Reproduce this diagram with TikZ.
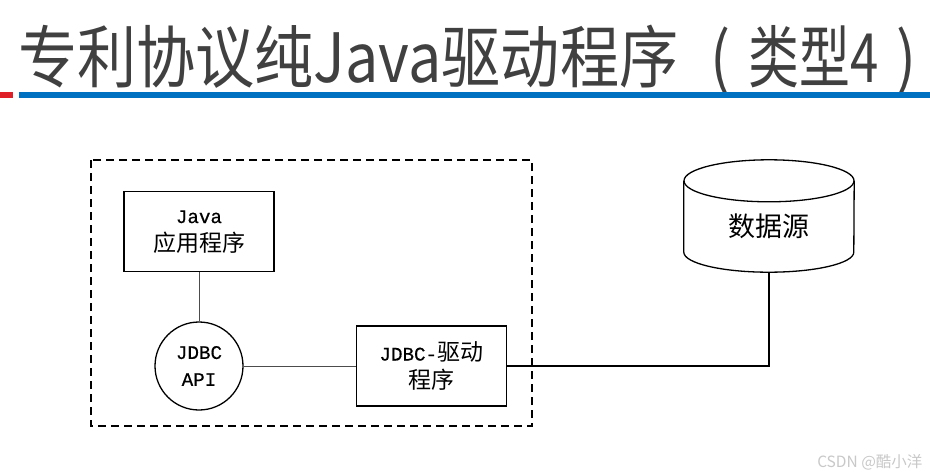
\documentclass[tikz,border=0pt]{standalone}
\usepackage{fontspec}
\setmainfont{Liberation Serif}
\newfontfamily\cjk{Noto Sans CJK SC}
\newfontfamily\latinmono[FakeBold=0.5]{Liberation Mono}
\usetikzlibrary{positioning, calc}
\definecolor{titlegray}{RGB}{64,64,64}
\definecolor{barblue}{RGB}{0,112,192}
\definecolor{barred}{RGB}{224,32,40}
\definecolor{markgray}{RGB}{200,200,200}
\newcommand{\zh}[1]{{\cjk\fontsize{23}{28}\selectfont #1}}
\tikzset{
  titletext/.style={inner sep=0pt, text=titlegray, xscale=0.87, transform shape,
                  font=\cjk\fontsize{68}{72}\selectfont},
  compbox/.style={rectangle, draw=black, line width=1.3pt, inner sep=0pt,
                  minimum width=150pt, minimum height=80pt, align=center,
                  font=\latinmono\fontsize{19.2}{28}\selectfont},
  apicircle/.style={circle, draw=black, line width=1.3pt, inner sep=0pt,
                  minimum size=88pt, align=center, font=\latinmono\fontsize{19.2}{27}\selectfont},
  dbnode/.style={rectangle, inner sep=0pt, minimum width=170pt, minimum height=91pt,
                  font=\cjk\fontsize{27}{30}\selectfont},
  thinlink/.style={draw=black!70, line width=0.9pt},
  dblink/.style={draw=black, line width=1.3pt},
  groupbox/.style={draw=black, line width=1.3pt, dash pattern=on 8pt off 5pt},
}

\begin{document}
\begin{tikzpicture}[x=1pt, y=1pt]
  \useasboundingbox (0,0) rectangle (930,-474);
  % Title
  \node[titletext, anchor=base west] (title) at (18,-82)
    {专利协议纯Java驱动程序\kern0.55em(\kern0.3em\scalebox{0.86}[1]{类型4}\kern0.3em)};
  \fill[barred] (0,-91.5) rectangle (13,-97.5);
  \fill[barblue] (19,-91.5) rectangle (930,-97.5);
  % Components
  \draw[groupbox] (91,-160) rectangle (532,-426);
  \node[apicircle] (api) at (199,-366) {JDBC\\API};
  \node[compbox, above=49pt of api] (app) {Java\\\zh{应用程序}};
  \node[compbox, right=112pt of api] (drv) {JDBC-\zh{驱动}\\\zh{程序}};
  \node[dbnode] (db) at (769,-226.5) {数据源};
  \draw[line width=1.3pt] (db.north) ellipse[x radius=85, y radius=21];
  \draw[line width=1.3pt] (db.north west) -- ([yshift=20pt]db.south west)
    arc[start angle=180, end angle=360, x radius=85, y radius=20] -- (db.north east);
  % Links
  \draw[thinlink] (app) -- (api);
  \draw[thinlink] (api) -- (drv);
  \draw[dblink] (drv.east) -| (db.south);
  \node[anchor=east, text=markgray, font=\cjk\fontsize{15.5}{17}\selectfont] (mark) at (926,-462) {CSDN @酷小洋};
\end{tikzpicture}
\end{document}
